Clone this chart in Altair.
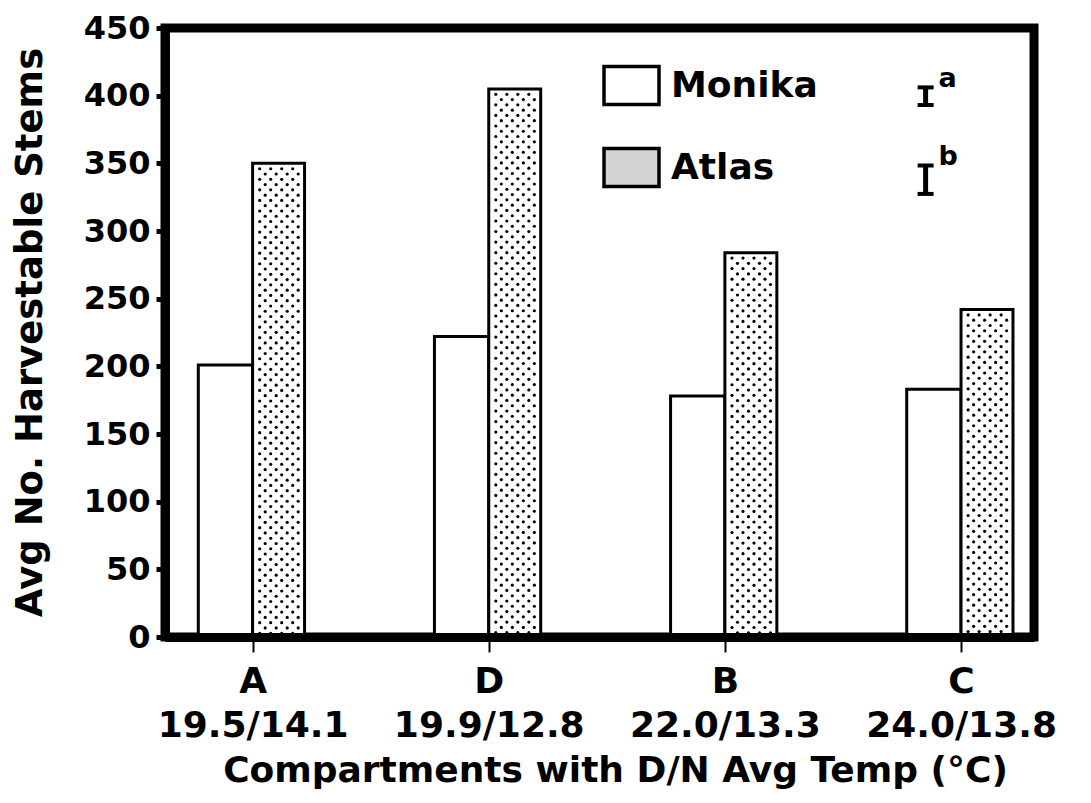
import altair as alt
import pandas as pd
import numpy as np

# ---------------- data ----------------
compartments = ["A", "D", "B", "C"]
temps = ["19.5/14.1", "19.9/12.8", "22.0/13.3", "24.0/13.8"]
cultivars = ["Monika", "Atlas"]
monika = [201, 222, 178, 183]
atlas = [350, 405, 284, 242]
lsd_labels = ["a", "b"]
lsd_values = [13, 21]
y_ticks = list(range(0, 451, 50))

# ---------------- style ----------------
W, H = 869, 609
FONT = "DejaVu Sans"
MW, AW = 0.23, 0.22          # bar widths in category units
XDOM = [-0.371, 3.309]
YDOM = [0, 450]

bars_df = pd.DataFrame({
    "idx": list(range(len(compartments))) * 2,
    "cultivar": ["Monika"] * len(monika) + ["Atlas"] * len(atlas),
    "value": monika + atlas,
})

# stipple texture for the Atlas bars (derived from the atlas values)
dx, dy = 0.0466, 3.9
dots = []
for i, v in enumerate(atlas):
    r = 0
    yy = v - 4.0
    while yy > 1.5:
        xx = i + 0.03 + (r % 2) * dx / 2
        while xx < i + AW - 0.015:
            dots.append({"x": xx, "y": yy})
            xx += dx
        yy -= dy
        r += 1
dots_df = pd.DataFrame(dots)

xscale = alt.Scale(domain=XDOM, nice=False, zero=False)
yscale = alt.Scale(domain=YDOM, nice=False)

label_expr = "[" + ",".join("['%s','%s']" % (c, t) for c, t in zip(compartments, temps)) + "][datum.value]"

x_axis = alt.Axis(
    values=list(range(len(compartments))), labelExpr=label_expr,
    title="Compartments with D/N Avg Temp (°C)",
    domain=True, domainColor="black", domainWidth=9,
    ticks=True, tickColor="black", tickWidth=2, tickSize=15,
    labelFont=FONT, labelFontSize=36, labelFontWeight="bold", labelColor="black",
    labelPadding=12, labelLineHeight=44, labelBaseline="top", labelFlush=False,
    labelLimit=0, labelOverlap=False,
    titleFont=FONT, titleFontSize=36, titleFontWeight="bold", titleColor="black",
    titleX=450, titleY=133, titleBaseline="middle", titleAlign="center",
    grid=False, zindex=1,
)
y_axis = alt.Axis(
    values=y_ticks, title="Avg No. Harvestable Stems",
    domain=True, domainColor="black", domainWidth=9,
    ticks=True, tickColor="black", tickWidth=5, tickSize=9,
    labelFont=FONT, labelFontSize=32, labelFontWeight="bold", labelColor="black",
    labelPadding=6, labelLimit=0,
    titleFont=FONT, titleFontSize=37, titleFontWeight="bold", titleColor="black",
    titleX=-135, titleY=304, titleBaseline="middle", titleAlign="center",
    grid=False, zindex=1,
)

base = alt.Chart(bars_df).transform_calculate(
    x0="datum.cultivar == 'Monika' ? datum.idx - %f : datum.idx" % MW,
    x1="datum.cultivar == 'Monika' ? datum.idx : datum.idx + %f" % AW,
    y0="0",
)

bars = base.mark_rect(fill="white", stroke="black", strokeWidth=3).encode(
    x=alt.X("x0:Q", scale=xscale, axis=x_axis),
    x2="x1:Q",
    y=alt.Y("value:Q", scale=yscale, axis=y_axis),
    y2="y0:Q",
)

stipple = alt.Chart(dots_df).mark_circle(size=10, color="black", opacity=1).encode(
    x=alt.X("x:Q", scale=xscale),
    y=alt.Y("y:Q", scale=yscale),
)

# legend-only layer (no rows drawn)
legend_layer = base.transform_filter("false").mark_rect(stroke="black", strokeWidth=3).encode(
    x=alt.X("x0:Q", scale=xscale),
    x2="x1:Q",
    y=alt.Y("value:Q", scale=yscale),
    y2="y0:Q",
    fill=alt.Fill(
        "cultivar:N",
        scale=alt.Scale(domain=cultivars, range=["white", "#d4d4d4"]),
        legend=alt.Legend(
            title=None, orient="none", legendX=437, legendY=28,
            direction="vertical",
            symbolType="M-1,-0.69L1,-0.69L1,0.69L-1,0.69Z", symbolSize=3025,
            symbolStrokeColor="black", symbolStrokeWidth=3.5,
            labelFont=FONT, labelFontSize=36, labelFontWeight="bold", labelColor="black",
            labelOffset=10, rowPadding=26, padding=0,
        ),
    ),
)

# LSD bars (I^a, I^b)
LSD_X = 2.85
LSD_Y = [399.6, 337.9]
lsd_df = pd.DataFrame({
    "lab": lsd_labels, "lsd": lsd_values, "cy": LSD_Y,
})
lsd_base = alt.Chart(lsd_df).transform_calculate(
    lo="datum.cy - datum.lsd / 2", hi="datum.cy + datum.lsd / 2", xx=str(LSD_X)
)
lsd_rule = lsd_base.mark_rule(color="black", strokeWidth=5, opacity=1).encode(
    x=alt.X("xx:Q", scale=xscale), y=alt.Y("lo:Q", scale=yscale), y2="hi:Q"
)
lsd_cap_lo = lsd_base.mark_tick(color="black", thickness=4, size=16, orient="horizontal", opacity=1).encode(
    x=alt.X("xx:Q", scale=xscale), y=alt.Y("lo:Q", scale=yscale)
)
lsd_cap_hi = lsd_base.mark_tick(color="black", thickness=4, size=16, orient="horizontal", opacity=1).encode(
    x=alt.X("xx:Q", scale=xscale), y=alt.Y("hi:Q", scale=yscale)
)
lsd_text = lsd_base.mark_text(
    font=FONT, fontSize=27, fontWeight="bold", color="black",
    align="left", baseline="bottom", dx=13, dy=6,
).encode(
    x=alt.X("xx:Q", scale=xscale), y=alt.Y("hi:Q", scale=yscale), text="lab:N"
)

chart = alt.layer(
    bars, stipple, legend_layer, lsd_rule, lsd_cap_lo, lsd_cap_hi, lsd_text
).properties(
    width=W, height=H,
    background="white",
    autosize=alt.AutoSizeParams(type="none"),
    padding={"left": 157, "top": 20, "right": 40, "bottom": 158},
).configure_view(
    stroke="black", strokeWidth=9, fill="white"
)

chart.save("out.html", embed_options={"renderer": "svg", "actions": False})
